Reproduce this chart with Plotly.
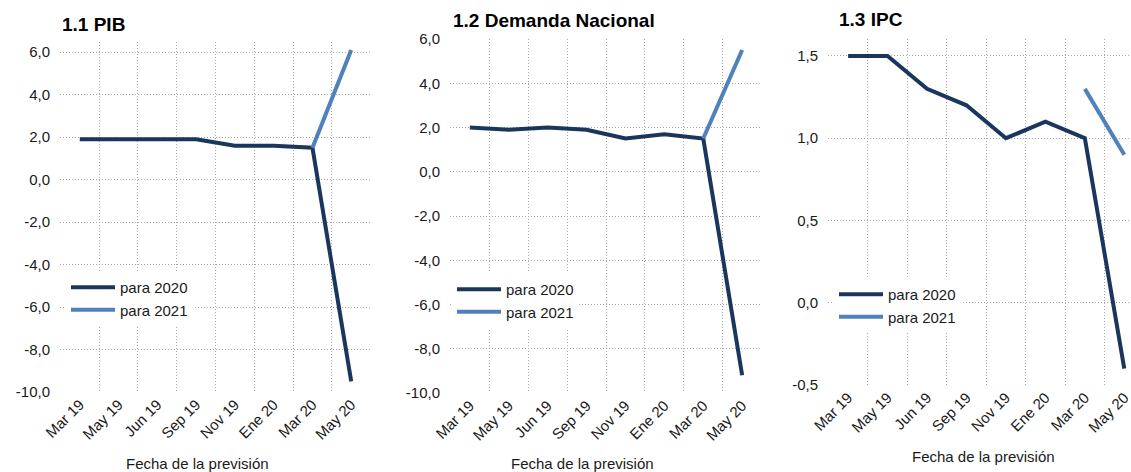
import plotly.graph_objects as go

W, H = 1131, 472

categories = ["Mar 19", "May 19", "Jun 19", "Sep 19", "Nov 19", "Ene 20", "Mar 20", "May 20"]

pib_2020 = [1.9, 1.9, 1.9, 1.9, 1.6, 1.6, 1.5, -9.5]
pib_2021 = [None, None, None, None, None, None, 1.5, 6.1]

dem_2020 = [2.0, 1.9, 2.0, 1.9, 1.5, 1.7, 1.5, -9.2]
dem_2021 = [None, None, None, None, None, None, 1.5, 5.5]

ipc_2020 = [1.5, 1.5, 1.3, 1.2, 1.0, 1.1, 1.0, -0.4]
ipc_2021 = [None, None, None, None, None, None, 1.3, 0.9]

ytick_vals_big = [-10, -8, -6, -4, -2, 0, 2, 4, 6]
ytick_text_big = ["-10,0", "-8,0", "-6,0", "-4,0", "-2,0", "0,0", "2,0", "4,0", "6,0"]
ytick_vals_ipc = [-0.5, 0.0, 0.5, 1.0, 1.5]
ytick_text_ipc = ["-0,5", "0,0", "0,5", "1,0", "1,5"]

titles = ["1.1 PIB", "1.2 Demanda Nacional", "1.3 IPC"]
series_names = ["para 2020", "para 2021"]
x_title = "Fecha de la previsión"

C2020 = "#1B365D"
C2021 = "#4F81BD"
GRID = "#A6A6A6"
FONT = "Liberation Sans, Arial, sans-serif"
DOT = "1px,2px"

def px_x(p):
    return p / W

def px_y(p):
    return 1 - p / H

panels = [
    dict(data=(pib_2020, pib_2021), xdom=(60, 371), ydom=(42, 392), yrange=[-10, 6.48],
         yt=(ytick_vals_big, ytick_text_big), xrange=[-0.51, 7.51], legend=(66, 271),
         title=(60, 25), xt=(197, 463)),
    dict(data=(dem_2020, dem_2021), xdom=(450, 762), ydom=(39, 393), yrange=[-10, 6],
         yt=(ytick_vals_big, ytick_text_big), xrange=[-0.51, 7.51], legend=(452, 273),
         title=(451, 21), xt=(582, 463)),
    dict(data=(ipc_2020, ipc_2021), xdom=(828, 1131), ydom=(39, 385), yrange=[-0.5, 1.603],
         yt=(ytick_vals_ipc, ytick_text_ipc), xrange=[-0.51, 7.17], legend=(834, 278),
         title=(837, 19), xt=(983, 456)),
]

fig = go.Figure()
layout = dict(
    width=W, height=H,
    margin=dict(l=0, r=0, t=0, b=0, autoexpand=False),
    paper_bgcolor="white", plot_bgcolor="white",
    font=dict(family=FONT, size=15, color="#1a1a1a"),
    showlegend=True,
)
annotations = []

for i, p in enumerate(panels):
    n = "" if i == 0 else str(i + 1)
    xa, ya = "x" + n, "y" + n
    lg = "legend" + n
    for vals, name, col in zip(p["data"], series_names, [C2020, C2021]):
        fig.add_trace(go.Scatter(
            x=categories, y=vals, name=name, mode="lines",
            line=dict(color=col, width=4), connectgaps=False,
            xaxis=xa, yaxis=ya, legend=lg, showlegend=True,
        ))
    layout["xaxis" + n] = dict(
        domain=[px_x(p["xdom"][0]), px_x(p["xdom"][1])],
        anchor=ya, type="category", categoryorder="array", categoryarray=categories,
        range=p["xrange"], tickson="boundaries", ticks="", showgrid=True,
        gridcolor=GRID, griddash=DOT, gridwidth=1, showline=False, zeroline=False,
        tickangle=-45, tickfont=dict(size=15, color="#1a1a1a"), automargin=False,
    )
    layout["yaxis" + n] = dict(
        domain=[px_y(p["ydom"][1]), px_y(p["ydom"][0])],
        anchor=xa, range=p["yrange"], tickmode="array",
        tickvals=p["yt"][0], ticktext=p["yt"][1],
        showgrid=True, gridcolor=GRID, griddash=DOT, gridwidth=1,
        zeroline=False, showline=False, ticks="", ticklabelstandoff=9,
        tickfont=dict(size=15, color="#1a1a1a"), automargin=False,
    )
    layout[lg] = dict(
        x=px_x(p["legend"][0]), y=px_y(p["legend"][1]), xanchor="left", yanchor="top",
        bgcolor="white", borderwidth=0, font=dict(size=15, color="#1a1a1a"),
        tracegroupgap=0, itemwidth=44,
    )
    annotations.append(dict(
        text="<b>" + titles[i] + "</b>", x=px_x(p["title"][0]), y=px_y(p["title"][1]),
        xref="paper", yref="paper", xanchor="left", yanchor="middle", showarrow=False,
        font=dict(size=19, color="black", family=FONT),
    ))
    annotations.append(dict(
        text=x_title, x=px_x(p["xt"][0]), y=px_y(p["xt"][1]),
        xref="paper", yref="paper", xanchor="center", yanchor="middle", showarrow=False,
        font=dict(size=15, color="#1a1a1a", family=FONT),
    ))

layout["annotations"] = annotations
fig.update_layout(**layout)
fig.write_html(
    "out.html",
    config={"displayModeBar": False},
    post_script="document.body.style.margin='0';document.body.style.padding='0';document.body.style.overflow='hidden';",
)
